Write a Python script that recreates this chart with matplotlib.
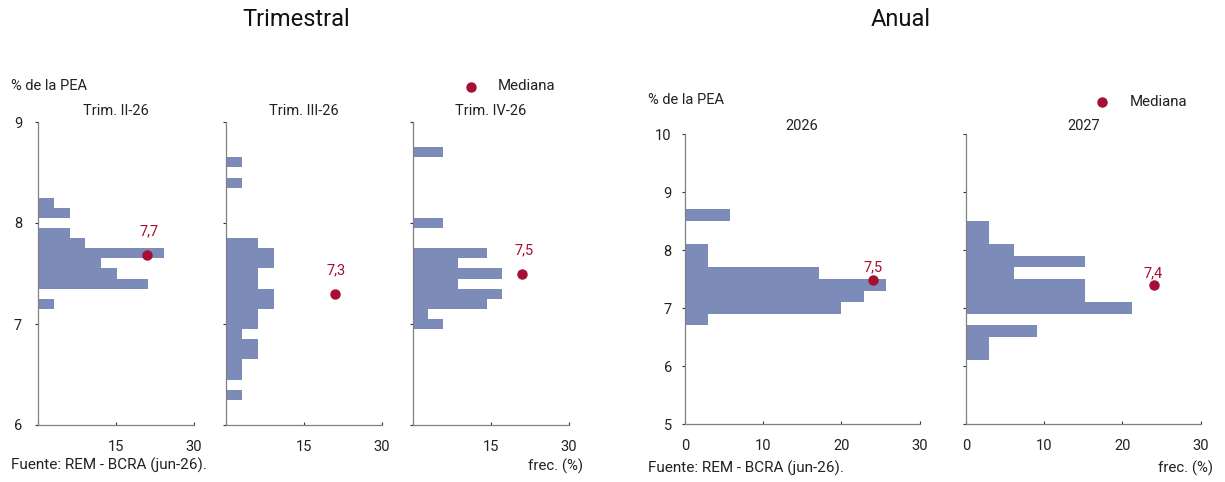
import matplotlib
matplotlib.use("Agg")
import matplotlib.pyplot as plt

plt.rcParams["font.family"] = ["Roboto", "DejaVu Sans"]

# -----------------------------
# Data (frequency % by desempleo bin)
# -----------------------------
q2_bins = [8.2, 8.1, 7.9, 7.8, 7.7, 7.6, 7.5, 7.4, 7.2]
q2_freq = [3.0, 6.1, 6.1, 9.1, 24.2, 12.1, 15.2, 21.2, 3.0]

q3_bins = [8.6, 8.4, 7.8, 7.7, 7.6, 7.5, 7.4, 7.3, 7.2, 7.1, 7.0, 6.9, 6.8, 6.7, 6.6, 6.5, 6.3]
q3_freq = [3.1, 3.1, 6.2, 9.3, 9.3, 6.2, 6.2, 9.3, 9.3, 6.2, 6.2, 3.1, 6.2, 6.2, 3.1, 3.1, 3.1]

q4_bins = [8.7, 8.0, 7.7, 7.6, 7.5, 7.4, 7.3, 7.2, 7.1, 7.0]
q4_freq = [5.7, 5.7, 14.3, 8.6, 17.1, 8.6, 17.1, 14.3, 2.9, 5.7]

y26_bins = [8.6, 8.0, 7.8, 7.6, 7.4, 7.2, 7.0, 6.8]
y26_freq = [5.7, 2.9, 2.9, 17.1, 25.7, 22.9, 20.0, 2.9]

y27_bins = [8.4, 8.2, 8.0, 7.8, 7.6, 7.4, 7.2, 7.0, 6.6, 6.4, 6.2]
y27_freq = [3.0, 3.0, 6.1, 15.2, 6.1, 15.2, 15.2, 21.2, 9.1, 3.0, 3.0]

quarter_titles = ["Trim. II-26", "Trim. III-26", "Trim. IV-26"]
quarter_medians = [7.68, 7.30, 7.50]
quarter_median_labels = ["7,7", "7,3", "7,5"]

year_titles = ["2026", "2027"]
year_medians = [7.48, 7.39]
year_median_labels = ["7,5", "7,4"]

BAR = "#7D8BB8"
RED = "#A50F34"
SPINE = "#808080"
TXT = "#222222"

W, H = 1225, 482


def fx(px):
    return px / W


def fy(py):
    return 1 - py / H


fig = plt.figure(figsize=(W / 100, H / 100), dpi=100)


def style_axis(ax, ylim, yticks, xticks, xlabels, show_y, ypad):
    ax.set_xlim(0, 30)
    ax.set_ylim(*ylim)
    for s in ["top", "right"]:
        ax.spines[s].set_visible(False)
    for s in ["left", "bottom"]:
        ax.spines[s].set_color(SPINE)
        ax.spines[s].set_linewidth(0.9)
    ax.set_yticks(yticks)
    ax.set_xticks(xticks)
    ax.set_xticklabels(xlabels)
    ax.tick_params(axis="y", direction="out", length=2.5, width=0.8, color="#333333",
                   labelsize=10.5, labelcolor=TXT, pad=ypad, labelleft=show_y)
    ax.tick_params(axis="x", direction="in", length=2.5, width=0.8, color="#333333",
                   labelsize=10.5, labelcolor=TXT, pad=11)


# -----------------------------
# Quarterly panels
# -----------------------------
q_data = [(q2_bins, q2_freq), (q3_bins, q3_freq), (q4_bins, q4_freq)]
q_left = [38, 226, 413]
for i, (bins, freq) in enumerate(q_data):
    ax = fig.add_axes([fx(q_left[i]), fy(425), fx(156), 303 / H])
    ax.barh(bins, freq, height=0.1, color=BAR, linewidth=0)
    ax.plot([21], [quarter_medians[i]], "o", color=RED, markersize=6.5)
    ax.annotate(quarter_median_labels[i], (21, quarter_medians[i]), xytext=(1, 12),
                textcoords="offset points", ha="center", va="bottom", color=RED, fontsize=10.5)
    style_axis(ax, (6, 9), [6, 7, 8, 9], [0, 15, 30], ["", "15", "30"], i == 0, 9)
    ax.set_title(quarter_titles[i], fontsize=10.5, color=TXT, pad=5)

# -----------------------------
# Annual panels
# -----------------------------
y_data = [(y26_bins, y26_freq), (y27_bins, y27_freq)]
y_left = [685, 966]
for i, (bins, freq) in enumerate(y_data):
    ax = fig.add_axes([fx(y_left[i]), fy(424), fx(234.5), 290 / H])
    ax.barh(bins, freq, height=0.2, color=BAR, linewidth=0)
    ax.plot([24], [year_medians[i]], "o", color=RED, markersize=6.5)
    ax.annotate(year_median_labels[i], (24, year_medians[i]), xytext=(0, 4),
                textcoords="offset points", ha="center", va="bottom", color=RED, fontsize=10.5)
    style_axis(ax, (5, 10), [5, 6, 7, 8, 9, 10], [0, 10, 20, 30], ["0", "10", "20", "30"], i == 0, 7)
    ax.set_title(year_titles[i], fontsize=10.5, color=TXT, pad=3)

# -----------------------------
# Titles, units, legend, source
# -----------------------------
fig.text(fx(296), fy(19), "Trimestral", fontsize=17, ha="center", va="center", color="#111111")
fig.text(fx(901), fy(19), "Anual", fontsize=17, ha="center", va="center", color="#111111")

fig.text(fx(11), fy(86), "% de la PEA", fontsize=10.5, va="center", color=TXT)
fig.text(fx(648), fy(100), "% de la PEA", fontsize=10.5, va="center", color=TXT)

for dx, dy, tx in [(471, 86.5, 498), (1102, 101.5, 1130)]:
    fig.lines.append(plt.Line2D([fx(dx)], [fy(dy)], marker="o", color=RED, markersize=6.5,
                                transform=fig.transFigure, linestyle="none"))
    fig.text(fx(tx), fy(dy), "Mediana", fontsize=10.8, va="center", color=TXT)

fig.text(fx(11), fy(465), "Fuente: REM - BCRA (jun-26).", fontsize=11, va="center", color=TXT)
fig.text(fx(648), fy(468), "Fuente: REM - BCRA (jun-26).", fontsize=11, va="center", color=TXT)
fig.text(fx(583), fy(466), "frec. (%)", fontsize=10.8, ha="right", va="center", color=TXT)
fig.text(fx(1213), fy(468), "frec. (%)", fontsize=10.8, ha="right", va="center", color=TXT)

fig.savefig("out.png", dpi=100)
plt.close(fig)
